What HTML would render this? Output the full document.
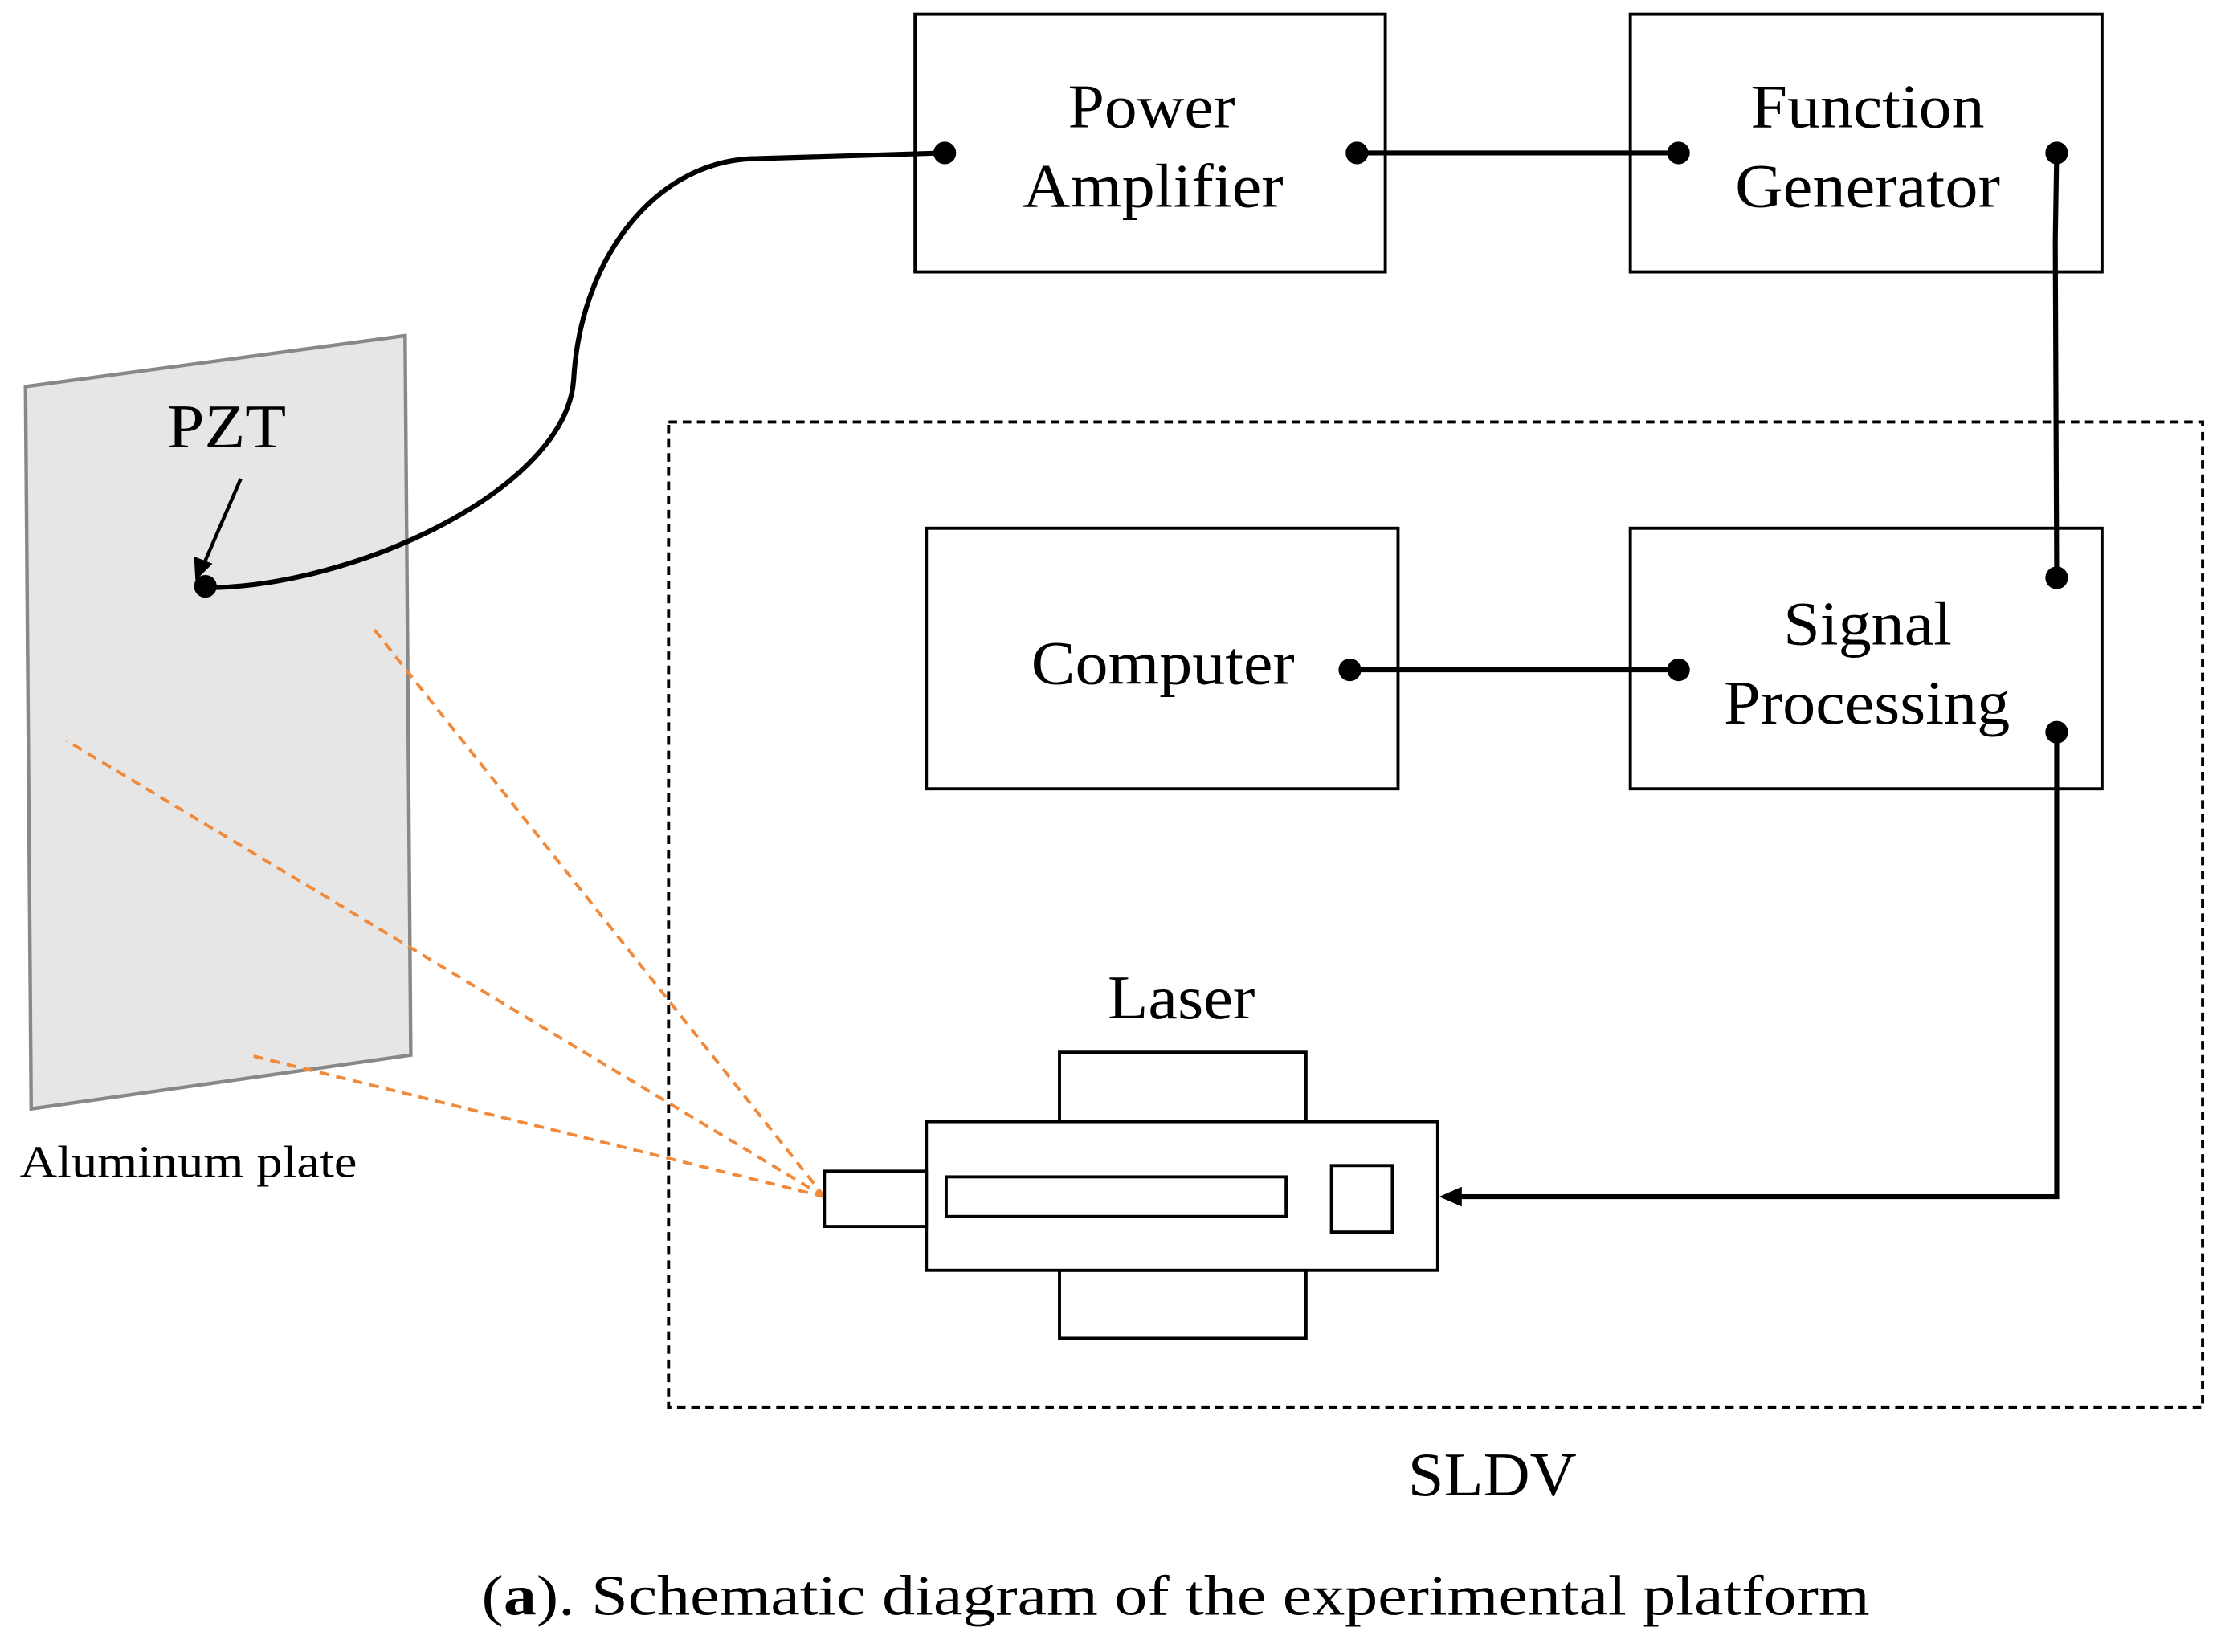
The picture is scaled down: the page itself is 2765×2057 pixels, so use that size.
<!DOCTYPE html>
<html><head><meta charset="utf-8"><style>html,body{margin:0;padding:0;background:#fff}svg{display:block}</style></head>
<body>
<svg width="2765" height="2057" viewBox="0 0 1568 1166.5" xmlns="http://www.w3.org/2000/svg" font-family="Liberation Serif, serif" preserveAspectRatio="none">
<rect width="1568" height="1167" fill="#fff"/>
<polygon points="18,273 286,237 290,745 22,783" fill="#e6e6e6" stroke="#888" stroke-width="2.5"/>
<text x="118" y="316" font-size="44" textLength="84" lengthAdjust="spacingAndGlyphs">PZT</text>
<line x1="170" y1="338" x2="144" y2="398" stroke="#000" stroke-width="2.5"/>
<polygon points="138,410 137,393 150,398" fill="#000"/>
<text x="14" y="831" font-size="32" textLength="238" lengthAdjust="spacingAndGlyphs">Aluminum plate</text>
<path d="M145,415 C250,415 400,345 405,268 C410,180 465,112 535,112 L667,108" fill="none" stroke="#000" stroke-width="3.5"/>
<circle cx="145" cy="414" r="8" fill="#000"/>
<g stroke="#f08a3a" stroke-width="2.2" stroke-dasharray="7,5" fill="none">
<line x1="582" y1="845" x2="263" y2="443"/>
<line x1="582" y1="845" x2="47" y2="523"/>
<line x1="582" y1="845" x2="176" y2="745"/>
</g>
<g fill="none" stroke="#000" stroke-width="2.2">
<rect x="646" y="10" width="332" height="182"/>
<rect x="1151" y="10" width="333" height="182"/>
<rect x="654" y="373" width="333" height="184"/>
<rect x="1151" y="373" width="333" height="184"/>
<rect x="472" y="298" width="1083" height="696" stroke-dasharray="6,4"/>
<rect x="748" y="743" width="174" height="49"/>
<rect x="748" y="897" width="174" height="48"/>
<rect x="654" y="792" width="361" height="105" fill="#fff"/>
<rect x="582" y="827" width="72" height="39"/>
<rect x="668" y="831" width="240" height="28"/>
<rect x="940" y="823" width="43" height="47"/>
</g>
<g font-size="44" lengthAdjust="spacingAndGlyphs">
<text x="754" y="90" textLength="118" lengthAdjust="spacingAndGlyphs">Power</text>
<text x="722" y="146" textLength="184" lengthAdjust="spacingAndGlyphs">Amplifier</text>
<text x="1236" y="90" textLength="165" lengthAdjust="spacingAndGlyphs">Function</text>
<text x="1225" y="146" textLength="187" lengthAdjust="spacingAndGlyphs">Generator</text>
<text x="728" y="483" textLength="186" lengthAdjust="spacingAndGlyphs">Computer</text>
<text x="1259" y="455" textLength="119" lengthAdjust="spacingAndGlyphs">Signal</text>
<text x="1217" y="511" textLength="202" lengthAdjust="spacingAndGlyphs">Processing</text>
<text x="782" y="719" textLength="104" lengthAdjust="spacingAndGlyphs">Laser</text>
<text x="994" y="1056" textLength="119" lengthAdjust="spacingAndGlyphs">SLDV</text>
</g>
<g stroke="#000" stroke-width="3.5" fill="none">
<line x1="958" y1="108" x2="1185" y2="108"/>
<path d="M1452,108 L1451,170 L1452,408"/>
<line x1="953" y1="473" x2="1185" y2="473"/>
<path d="M1452,517 L1452,845 L1030,845"/>
</g>
<polygon points="1016,845 1032,838 1032,852" fill="#000"/>
<g fill="#000">
<circle cx="667" cy="108" r="8"/><circle cx="958" cy="108" r="8"/>
<circle cx="1185" cy="108" r="8"/><circle cx="1452" cy="108" r="8"/>
<circle cx="953" cy="473" r="8"/><circle cx="1185" cy="473" r="8"/>
<circle cx="1452" cy="408" r="8"/><circle cx="1452" cy="517" r="8"/>
</g>
<text x="340" y="1140" font-size="40" textLength="980" lengthAdjust="spacingAndGlyphs">(<tspan font-weight="bold">a</tspan>). Schematic diagram of the experimental platform</text>
</svg>
</body></html>
